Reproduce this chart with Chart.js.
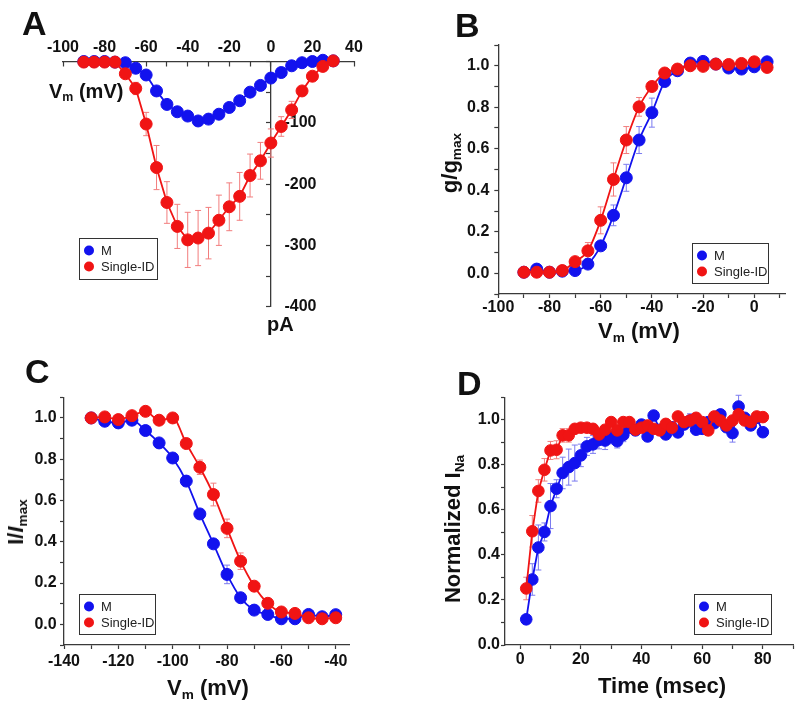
<!DOCTYPE html>
<html>
<head>
<meta charset="utf-8">
<script src="https://cdn.jsdelivr.net/npm/chart.js@4.4.1/dist/chart.umd.min.js"></script>
<style>
  body { margin: 0; background: #fff; }
  #fig { position: relative; width: 800px; height: 709px; overflow: hidden;
         font-family: "Liberation Sans", Arial, sans-serif; color: #111; }
  #fig canvas { position: absolute; }
  .txt { position: absolute; font-weight: bold; line-height: 1; white-space: nowrap; }
  .panel { font-size: 34px; }
  .ttl { font-size: 22px; }
  .rot { transform: translate(-50%, -50%) rotate(-90deg); }
  .sub { font-size: 0.62em; position: relative; top: 0.3em; }
</style>
</head>
<body>
<div id="fig">
  <canvas id="chartA" width="400" height="340" style="left:0;top:0"></canvas>
  <canvas id="chartB" width="400" height="340" style="left:400px;top:0"></canvas>
  <canvas id="chartC" width="400" height="369" style="left:0;top:340px"></canvas>
  <canvas id="chartD" width="400" height="369" style="left:400px;top:340px"></canvas>

  <div class="txt panel" style="left:22px;top:5.6px">A</div>
  <div class="txt panel" style="left:455px;top:7.6px">B</div>
  <div class="txt panel" style="left:25px;top:353.6px">C</div>
  <div class="txt panel" style="left:457px;top:365.6px">D</div>

  <div class="txt" style="left:49px;top:80.7px;font-size:20px">V<span class="sub">m</span> (mV)</div>
  <div class="txt" style="left:267px;top:314px;font-size:20px">pA</div>

  <div class="txt ttl" style="left:598px;top:320.4px">V<span class="sub">m</span> (mV)</div>
  <div class="txt ttl rot" style="left:450px;top:162.5px">g/g<span class="sub">max</span></div>

  <div class="txt ttl" style="left:167px;top:676.6px">V<span class="sub">m</span> (mV)</div>
  <div class="txt ttl rot" style="left:16.4px;top:521.7px">I/<i>I</i><span class="sub">max</span></div>

  <div class="txt ttl" style="left:598px;top:675.4px">Time (msec)</div>
  <div class="txt ttl rot" style="left:453.4px;top:529px">Normalized I<span class="sub">Na</span></div>
</div>

<script>
// A: current-voltage
const ivVolt = [-90, -85, -80, -75, -70, -65, -60, -55, -50, -45, -40, -35, -30, -25, -20, -15, -10, -5, 0, 5, 10, 15, 20, 25, 30];
const ivM = [0, 0, 0, -1, -2, -11, -22, -48, -70, -82, -89, -97, -94, -86, -75, -64, -50, -39, -27, -18, -7, -2, 0, 2, 1];
const ivMErr = [0, 0, 0, 0, 1, 2, 3, 4, 5, 5, 6, 7, 6, 5, 4, 4, 3, 3, 3, 2, 2, 1, 1, 1, 0];
const ivS = [-1, -1, -1, -1, -20, -44, -102, -173, -230, -269, -291, -288, -280, -259, -237, -220, -186, -162, -133, -106, -79, -48, -24, -8, 1];
const ivSErr = [0, 0, 0, 1, 5, 10, 19, 36, 34, 36, 45, 45, 42, 41, 39, 39, 35, 30, 23, 16, 14, 7, 5, 3, 0];

// B: activation
const actVolt = [-90, -85, -80, -75, -70, -65, -60, -55, -50, -45, -40, -35, -30, -25, -20, -15, -10, -5, 0, 5];
const actM = [0.005, 0.02, 0.005, 0.01, 0.013, 0.044, 0.132, 0.279, 0.46, 0.642, 0.774, 0.924, 0.976, 1.013, 1.021, 1.008, 0.989, 0.984, 0.995, 1.019];
const actMErr = [0, 0.01, 0, 0, 0.01, 0.015, 0.02, 0.05, 0.065, 0.065, 0.07, 0.02, 0.01, 0.01, 0, 0, 0, 0, 0, 0];
const actS = [0.005, 0.005, 0.005, 0.013, 0.056, 0.108, 0.255, 0.452, 0.642, 0.802, 0.9, 0.965, 0.984, 1.0, 0.997, 1.008, 1.006, 1.011, 1.019, 0.992];
const actSErr = [0, 0, 0, 0.01, 0.02, 0.04, 0.065, 0.08, 0.065, 0.045, 0.02, 0.01, 0.01, 0, 0, 0, 0, 0, 0, 0];

// C: steady-state inactivation
const inactVolt = [-130, -125, -120, -115, -110, -105, -100, -95, -90, -85, -80, -75, -70, -65, -60, -55, -50, -45, -40];
const inactM = [1.0, 0.984, 0.976, 0.989, 0.939, 0.879, 0.806, 0.694, 0.535, 0.39, 0.242, 0.129, 0.069, 0.048, 0.027, 0.027, 0.048, 0.037, 0.047];
const inactMErr = [0, 0.01, 0.01, 0.01, 0.01, 0.01, 0.015, 0.025, 0.02, 0.02, 0.045, 0.015, 0.01, 0.01, 0.01, 0.01, 0.01, 0.01, 0.01];
const inactS = [1.0, 1.005, 0.992, 1.011, 1.032, 0.989, 1.0, 0.876, 0.761, 0.629, 0.465, 0.306, 0.185, 0.102, 0.06, 0.053, 0.032, 0.027, 0.032];
const inactSErr = [0, 0, 0, 0, 0, 0, 0, 0.015, 0.035, 0.055, 0.045, 0.04, 0.02, 0.015, 0.01, 0.01, 0.01, 0.01, 0.01];

// D: recovery from inactivation
const recTime = [2, 4, 6, 8, 10, 12, 14, 16, 18, 20, 22, 24, 26, 28, 30, 32, 34, 36, 38, 40,
                 42, 44, 46, 48, 50, 52, 54, 56, 58, 60, 62, 64, 66, 68, 70, 72, 74, 76, 78, 80];
const recM = [0.114, 0.291, 0.433, 0.502, 0.617, 0.694, 0.764, 0.79, 0.808, 0.842, 0.882, 0.891, 0.911, 0.908, 0.923, 0.905, 0.933, 0.965, 0.953, 0.979,
              0.926, 1.019, 0.956, 0.935, 0.967, 0.944, 0.979, 0.997, 0.956, 0.96, 0.99, 0.985, 1.024, 0.967, 0.941, 1.059, 1.009, 0.975, 1.009, 0.945];
const recMErr = [0.01, 0.07, 0.1, 0.04, 0.1, 0.04, 0.07, 0.08, 0.08, 0.05, 0.04, 0.04, 0.04, 0.04, 0.03, 0.03, 0.03, 0.02, 0.02, 0.02,
                 0.02, 0.02, 0.02, 0.02, 0.02, 0.02, 0.02, 0.03, 0.02, 0.02, 0.02, 0.02, 0.02, 0.02, 0.04, 0.05, 0.02, 0.02, 0.02, 0.02];
const recS = [0.251, 0.505, 0.684, 0.778, 0.864, 0.867, 0.931, 0.931, 0.96, 0.965, 0.965, 0.96, 0.935, 0.956, 0.99, 0.953, 0.99, 0.99, 0.956, 0.965,
              0.975, 0.96, 0.953, 0.982, 0.965, 1.015, 0.99, 0.997, 1.009, 0.99, 0.953, 1.015, 0.997, 0.975, 0.997, 1.024, 0.997, 0.99, 1.015, 1.012];
const recSErr = [0.05, 0.07, 0.05, 0.05, 0.04, 0.04, 0.03, 0.03, 0.02, 0.02, 0.02, 0.02, 0.02, 0.02, 0.02, 0.02, 0.02, 0.02, 0.02, 0.02,
                 0.02, 0.02, 0.02, 0.02, 0.02, 0.02, 0.02, 0.02, 0.02, 0.02, 0.02, 0.02, 0.02, 0.02, 0.02, 0.02, 0.02, 0.02, 0.02, 0.02];

const FONT = "'Liberation Sans', Arial, sans-serif";
const BLUE = "#1212ee";
const RED = "#f01414";
const BLUE_ERR = "#7b7bf0";
const RED_ERR = "#f27d7d";

Chart.defaults.font.family = FONT;
Chart.defaults.color = "#111";

// linear scale whose tick labels sit to the right of an axis placed inside the plot
class InnerRightScale extends Chart.LinearScale {
  _computeLabelItems(area) {
    const items = super._computeLabelItems(area);
    items.forEach((it) => {
      it.options.textAlign = "left";
      it.options.translation[0] += 13.6;
    });
    return items;
  }
}
InnerRightScale.id = "innerRight";
InnerRightScale.defaults = Chart.LinearScale.defaults;
Chart.register(InnerRightScale);

const errorBars = {
  id: "errorBars",
  beforeDatasetsDraw(chart) {
    const { ctx } = chart;
    const yScale = chart.scales.y;
    chart.data.datasets.forEach((ds, i) => {
      if (!ds.errors) return;
      const meta = chart.getDatasetMeta(i);
      ctx.save();
      ctx.strokeStyle = ds.errorColor;
      ctx.lineWidth = 1;
      meta.data.forEach((pt, j) => {
        const e = ds.errors[j];
        if (!e) return;
        const v = ds.data[j].y;
        const top = yScale.getPixelForValue(v + e);
        const bot = yScale.getPixelForValue(v - e);
        ctx.beginPath();
        ctx.moveTo(pt.x, top); ctx.lineTo(pt.x, bot);
        ctx.moveTo(pt.x - 3, top); ctx.lineTo(pt.x + 3, top);
        ctx.moveTo(pt.x - 3, bot); ctx.lineTo(pt.x + 3, bot);
        ctx.stroke();
      });
      ctx.restore();
    });
  },
};

// framed legend box like the original figure
const boxLegend = {
  id: "boxLegend",
  afterDraw(chart, args, opts) {
    const { ctx } = chart;
    ctx.save();
    ctx.strokeStyle = "#333";
    ctx.lineWidth = 1;
    ctx.strokeRect(opts.x + 0.5, opts.y + 0.5, opts.w, opts.h);
    ctx.font = `13px ${FONT}`;
    ctx.textBaseline = "middle";
    chart.data.datasets.forEach((ds, i) => {
      const cy = opts.y + 12.5 + i * 16;
      ctx.fillStyle = ds.pointBackgroundColor;
      ctx.beginPath();
      ctx.arc(opts.x + 10, cy, 5, 0, Math.PI * 2);
      ctx.fill();
      ctx.fillStyle = "#222";
      ctx.fillText(ds.label, opts.x + 22, cy + 0.5);
    });
    ctx.restore();
  },
};

const pts = (xs, ys) => xs.map((x, i) => ({ x, y: ys[i] }));

function series(label, xs, ys, errs, color, errColor, order, extra = {}) {
  return {
    label,
    data: pts(xs, ys),
    errors: errs,
    errorColor: errColor,
    borderColor: color,
    backgroundColor: color,
    pointBackgroundColor: color,
    pointBorderColor: color,
    pointRadius: 6,
    pointBorderWidth: 1,
    borderWidth: 1.8,
    order,
    clip: false,
    ...extra,
  };
}

const tickFont = { size: 16, weight: "bold" };
const border = { color: "#3a3a3a", width: 1.3 };
const grid = { drawOnChartArea: false, tickLength: 4, tickColor: "#3a3a3a", tickWidth: 1.2 };
const everyOther = (n) => (v) => (Math.abs(v % n) < 1e-9 ? String(v) : "");
const tenths = (v) => (Math.round(v * 10) % 2 === 0 ? v.toFixed(1) : "");

function linAxis(position, min, max, step, size, callback, pad, extra = {}) {
  return {
    type: "linear",
    position,
    min,
    max,
    afterFit: (s) => {
      if (s.isHorizontal()) s.height = size;
      else s.width = size;
    },
    border,
    grid,
    ticks: { stepSize: step, autoSkip: false, maxRotation: 0, includeBounds: false,
             padding: pad, font: tickFont, color: "#111", callback },
    ...extra,
  };
}

function makeChart(id, datasets, scales, padding, legendBox) {
  return new Chart(document.getElementById(id), {
    type: "line",
    data: { datasets },
    options: {
      responsive: false,
      animation: false,
      events: [],
      layout: { padding },
      scales,
      plugins: { legend: { display: false }, tooltip: { enabled: false }, boxLegend: legendBox },
    },
    plugins: [errorBars, boxLegend],
  });
}

makeChart("chartA",
  [series("M", ivVolt, ivM, ivMErr, BLUE, BLUE_ERR, 1),
   series("Single-ID", ivVolt, ivS, ivSErr, RED, RED_ERR, 0)],
  {
    x: linAxis("top", -100, 40, 10, 61.5, everyOther(20), 9, { grid: { ...grid, tickLength: -5 } }),
    y: linAxis({ x: 0 }, -400, 0, 50, 0, (v) => (v % 100 === 0 && v !== 0 ? String(v) : ""), 0, { type: "innerRight" }),
  },
  { left: 63, right: 46, top: 0, bottom: 33.3 },
  { x: 79, y: 238, w: 78, h: 41 });

const smooth = { cubicInterpolationMode: "monotone" };

makeChart("chartB",
  [series("M", actVolt, actM, actMErr, BLUE, BLUE_ERR, 1, smooth),
   series("Single-ID", actVolt, actS, actSErr, RED, RED_ERR, 0, smooth)],
  {
    x: linAxis("bottom", -100, 12, 10, 46, everyOther(20), -0.5),
    y: linAxis("left", -0.1, 1.1, 0.1, 98.3, tenths, 5),
  },
  { left: 0, right: 15, top: 45, bottom: 0 },
  { x: 292, y: 243, w: 76, h: 40 });

makeChart("chartC",
  [series("M", inactVolt, inactM, inactMErr, BLUE, BLUE_ERR, 1, smooth),
   series("Single-ID", inactVolt, inactS, inactSErr, RED, RED_ERR, 0, smooth)],
  {
    x: linAxis("bottom", -140, -35, 10, 64, everyOther(20), 3),
    y: linAxis("left", -0.1, 1.1, 0.1, 64, tenths, 3.3),
  },
  { left: 0, right: 50.7, top: 57.3, bottom: 0 },
  { x: 79, y: 254, w: 76, h: 40 });

makeChart("chartD",
  [series("M", recTime, recM, recMErr, BLUE, BLUE_ERR, 1, { pointRadius: 5.8 }),
   series("Single-ID", recTime, recS, recSErr, RED, RED_ERR, 0, { pointRadius: 5.8 })],
  {
    x: linAxis("bottom", -5, 90, 10, 64, everyOther(20), 1.4),
    y: linAxis("left", 0, 1.1, 0.1, 105, tenths, 1),
  },
  { left: 0, right: 6.7, top: 57.3, bottom: 0 },
  { x: 294, y: 254, w: 77, h: 40 });
</script>
</body>
</html>
